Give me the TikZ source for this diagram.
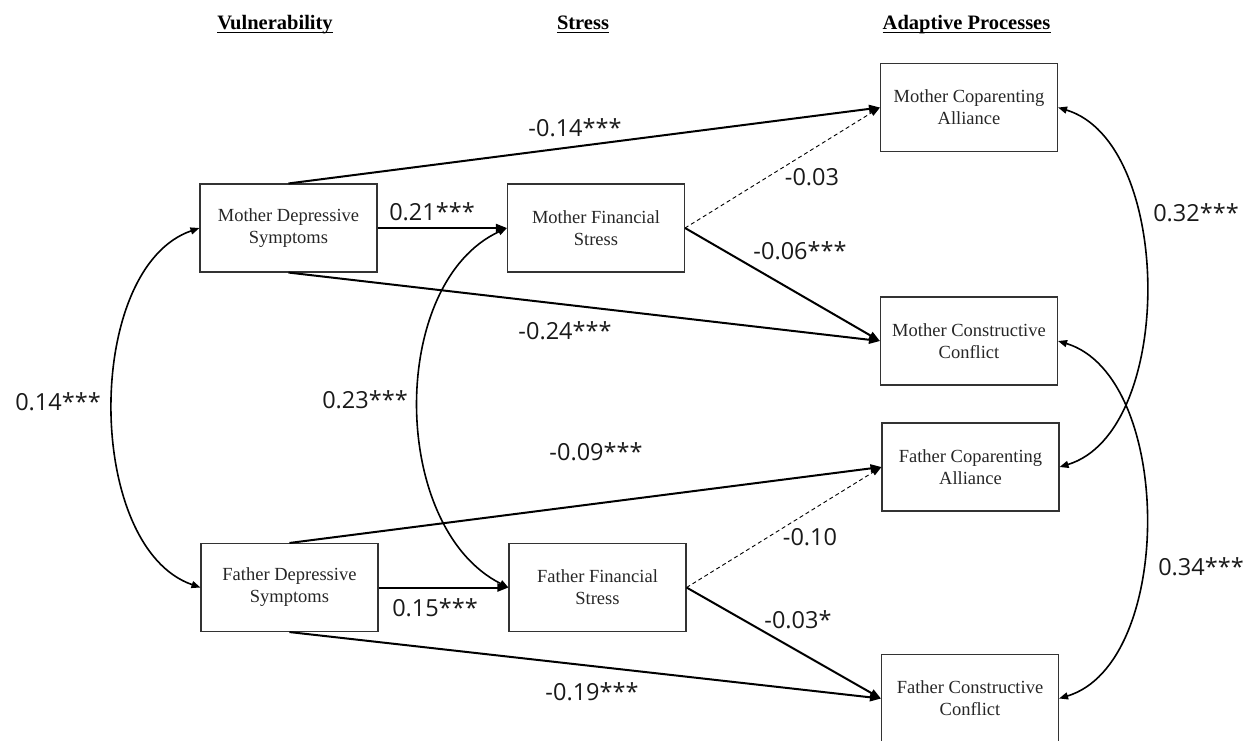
\documentclass[tikz,border=0pt]{standalone}
\usepackage{fontspec}
\setmainfont{Liberation Serif}
\newfontfamily\lblfont{Open Sans}
\usetikzlibrary{arrows.meta,calc}
\begin{document}
\begin{tikzpicture}[x=1pt,y=-1pt,
  box/.style={draw=black!80, line width=1.1pt, minimum width=177pt, minimum height=88pt, inner sep=0pt, align=center, font=\fontsize{18.5}{22}\selectfont, text=black!85},
  hdr/.style={inner sep=0pt, anchor=base, font=\fontsize{20.5}{24}\selectfont\bfseries},
  lbl/.style={inner sep=0pt, font=\lblfont\fontsize{23.5}{28}\selectfont, text=black!90},
  arr/.style={line width=2pt, -{Triangle[length=11pt,width=8pt]}},
  dsh/.style={line width=0.9pt, dash pattern=on 4pt off 3pt, -{Triangle[length=10pt,width=7pt]}},
  cov/.style={line width=1.6pt, {Triangle[length=9pt,width=7pt]}-{Triangle[length=9pt,width=7pt]}},
  uline/.style={line width=1.8pt}
]
\useasboundingbox (0,0) rectangle (1249,740);
\clip (0,0) rectangle (1249,740);

% headers
\node[hdr] (h1) at (275,29) {Vulnerability};
\node[hdr] (h2) at (583,29) {Stress};
\node[hdr] (h3) at (966.5,29) {Adaptive Processes};
\foreach \h in {h1,h2,h3}
  \draw[uline] ($(\h.base west)+(0,3.5)$) -- ($(\h.base east)+(0,3.5)$);

% boxes
\node[box] (mds) at (288.5,228) {Mother Depressive\\Symptoms};
\node[box] (mfs) at (596,228) {Mother Financial\\Stress};
\node[box] (mca) at (969,107.5) {Mother Coparenting\\Alliance};
\node[box] (mcc) at (969,341) {Mother Constructive\\Conflict};
\node[box] (fca) at (970.5,467) {Father Coparenting\\Alliance};
\node[box] (fcc) at (970,698.5) {Father Constructive\\Conflict};
\node[box] (fds) at (289.5,587.5) {Father Depressive\\Symptoms};
\node[box] (ffs) at (597.5,587.5) {Father Financial\\Stress};

% mother paths
\draw[arr] (mds.north) -- (mca.west);
\draw[arr] (mds.east) -- (mfs.west);
\draw[arr] (mds.south) -- (mcc.west);
\draw[dsh] (mfs.east) -- (mca.west);
\draw[arr] (mfs.east) -- (mcc.west);

% father paths
\draw[arr] (fds.north) -- (fca.west);
\draw[arr] (fds.east) -- (ffs.west);
\draw[arr] (fds.south) -- (fcc.west);
\draw[dsh] (ffs.east) -- (fca.west);
\draw[arr] (ffs.east) -- (fcc.west);

% covariances
\draw[cov] (mds.west) .. controls +(-116,40) and +(-116,-40) .. (fds.west);
\draw[cov] (mfs.west) .. controls +(-119,55) and +(-119,-60) .. (ffs.west);
\draw[cov] (mca.east) .. controls +(116,35) and +(116,-35) .. (fca.east);
\draw[cov] (mcc.east) .. controls +(116,35) and +(116,-35) .. (fcc.east);

% labels
\node[lbl] (l1) at (575,128) {-0.14***};
\node[lbl] (l2) at (432,212) {0.21***};
\node[lbl] (l3) at (812,177) {-0.03};
\node[lbl] (l4) at (800,251) {-0.06***};
\node[lbl] (l5) at (565,331) {-0.24***};
\node[lbl] (l6) at (58,402) {0.14***};
\node[lbl] (l7) at (365,400) {0.23***};
\node[lbl] (l8) at (1196,213) {0.32***};
\node[lbl] (l9) at (1201,567) {0.34***};
\node[lbl] (l10) at (596,452) {-0.09***};
\node[lbl] (l11) at (435,608) {0.15***};
\node[lbl] (l12) at (810,537) {-0.10};
\node[lbl] (l13) at (798,620) {-0.03*};
\node[lbl] (l14) at (592,692) {-0.19***};
\end{tikzpicture}
\end{document}
